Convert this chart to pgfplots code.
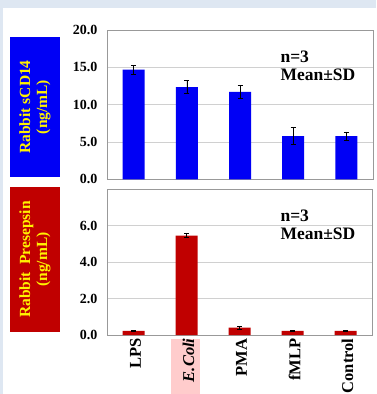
\documentclass[border=0pt]{standalone}
\usepackage{pgfplots}
\pgfplotsset{compat=1.18}
\usepackage{fontspec}
\setmainfont{Liberation Serif}
\definecolor{bgblue}{HTML}{DEE7F2}
\definecolor{barblue}{HTML}{0000F5}
\definecolor{barred}{HTML}{C00000}
\definecolor{pinkbox}{HTML}{FFCCCC}
\definecolor{axgray}{HTML}{999999}
\definecolor{gridgray}{HTML}{D0D0D0}
\begin{document}
\begin{tikzpicture}
\useasboundingbox (0,0) rectangle (376pt,-394pt);
\fill[bgblue] (0,0) rectangle (376pt,-394pt);
\fill[white] (3pt,-8pt) rectangle (376pt,-394pt);
\fill[barblue] (10pt,-37pt) rectangle (60pt,-177pt);
\node[rotate=90, text=yellow, font=\bfseries\fontsize{15.5}{17}\selectfont, align=center] at (35pt,-107pt) {Rabbit sCD14\\(ng/mL)};
\fill[barred] (10pt,-187pt) rectangle (60pt,-332pt);
\node[rotate=90, text=yellow, font=\bfseries\fontsize{15.5}{17}\selectfont, align=center] at (35pt,-259.5pt) {Rabbit\ \ Presepsin\\(ng/mL)};
\fill[pinkbox] (171pt,-339pt) rectangle (200pt,-394pt);
\pgfplotsset{myaxis/.style={scale only axis, anchor=south west,
  xmin=-0.5, xmax=4.5, xtick={0,...,4},
  ymajorgrids, grid style={gridgray, line width=0.8pt},
  axis line style={axgray, line width=1pt},
  major tick length=0pt,
  yticklabel style={font=\bfseries\fontsize{14}{16}\selectfont, xshift=-6pt},
  /pgf/number format/.cd, fixed, fixed zerofill, precision=1, assume math mode=true}}
\begin{axis}[myaxis, at={(107pt,-179.3pt)}, width=266pt, height=149.3pt,
  ymin=0, ymax=20, ytick={0,5,10,15,20}, xticklabels={}]
\addplot[ybar, bar width=22pt, fill=barblue, draw=none,
  error bars/.cd, y dir=both, y explicit, error mark=|,
  error bar style={black, line width=0.6pt},
  error mark options={black, line width=0.6pt, mark size=2.5pt}]
  coordinates {(0,14.7) +- (0,0.6) (1,12.35) +- (0,0.85) (2,11.7) +- (0,0.85) (3,5.8) +- (0,1.1) (4,5.8) +- (0,0.55)};
\end{axis}
\begin{axis}[myaxis, at={(107pt,-335pt)}, width=265pt, height=145.7pt,
  ymin=0, ymax=8, ytick={0,2,4,6},
  xticklabels={LPS, \textit{E.Coli}, PMA, fMLP, Control},
  xticklabel style={rotate=90, anchor=east, font=\bfseries\fontsize{16.5}{18}\selectfont, yshift=-2pt}]
\addplot[ybar, bar width=22pt, fill=barred, draw=none,
  error bars/.cd, y dir=both, y explicit, error mark=|,
  error bar style={black, line width=0.6pt},
  error mark options={black, line width=0.6pt, mark size=2.5pt}]
  coordinates {(0,0.22) +- (0,0.02) (1,5.46) +- (0,0.1) (2,0.4) +- (0,0.09) (3,0.22) +- (0,0.03) (4,0.22) +- (0,0.02)};
\end{axis}
\node[anchor=west, font=\bfseries\fontsize{17.5}{19}\selectfont] at (277pt,-57pt) {n=3};
\node[anchor=west, font=\bfseries\fontsize{17.5}{19}\selectfont] at (277pt,-74.5pt) {Mean±SD};
\node[anchor=west, font=\bfseries\fontsize{17.5}{19}\selectfont] at (277pt,-216pt) {n=3};
\node[anchor=west, font=\bfseries\fontsize{17.5}{19}\selectfont] at (277pt,-234pt) {Mean±SD};
\end{tikzpicture}
\end{document}
